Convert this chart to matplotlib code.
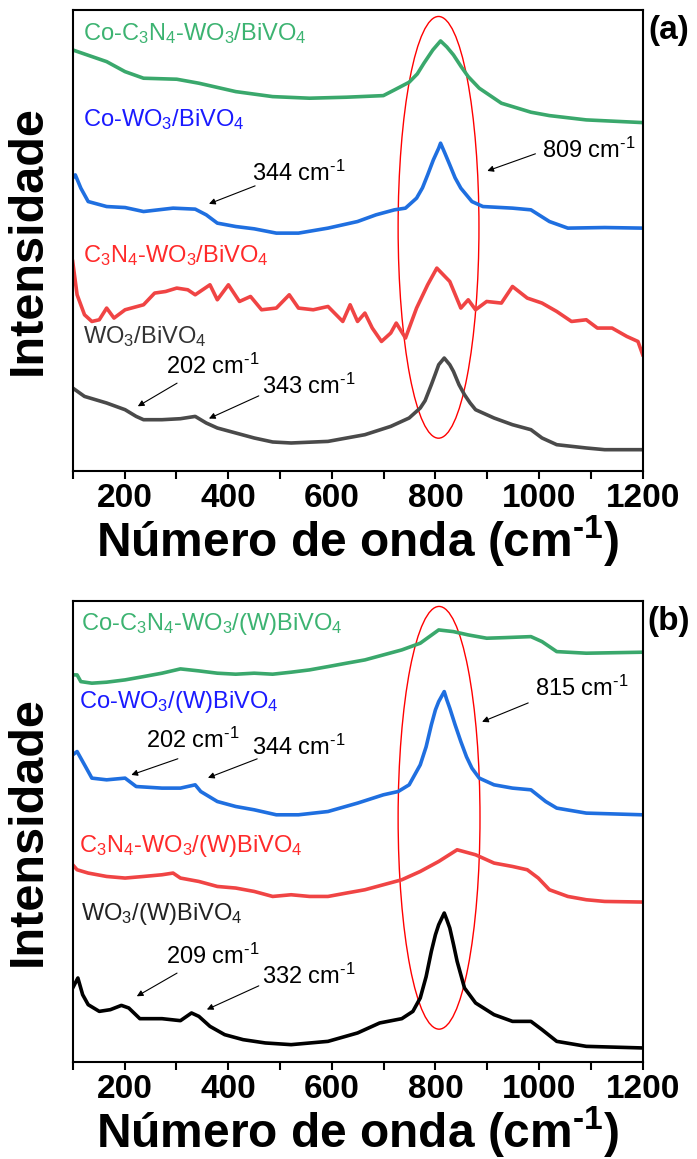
import matplotlib
matplotlib.use("Agg")
import matplotlib.pyplot as plt
from matplotlib.patches import Ellipse
from matplotlib.ticker import MultipleLocator

plt.rcParams["font.family"] = ["Liberation Sans", "DejaVu Sans"]
plt.rcParams["mathtext.fontset"] = "custom"
plt.rcParams["mathtext.rm"] = "Liberation Sans"
plt.rcParams["mathtext.bf"] = "Liberation Sans:bold"
plt.rcParams["mathtext.default"] = "regular"

HIFEN = "\u2010"  # hífen verdadeiro no expoente (o mathtext troca "-" pelo sinal de menos)

# ---- painel (a) ----
a_verde_x = [100, 165.5, 201, 236.7, 300.8, 343.5, 414.7, 485.9, 557.1, 628.3, 699.5, 720.9, 749.3,
             765, 777.8, 795, 809.9, 822, 834.8, 850, 863.3, 884.6, 927.3, 984.3, 1020, 1091, 1200]
a_verde_y = [421, 409.3, 399.3, 392.7, 391.7, 387.7, 379.3, 374.3, 372.7, 373.7, 375.3, 381, 388.7,
             397, 407.7, 421, 430, 424, 416, 404, 394.3, 382.7, 367.7, 358.7, 355.3, 351, 348.3]

a_azul_x = [100, 105, 115.7, 129.9, 165.5, 201.1, 236.7, 293.7, 336.4, 357.7, 379.1, 414.7, 450.3, 493,
            535.7, 592.7, 649.7, 685.3, 720.9, 742.2, 763.6, 775, 785, 796, 806.3, 809.9, 818, 827.7,
            838, 849, 870.4, 891.7, 948.7, 984.3, 1020, 1055.5, 1126.7, 1200]
a_azul_y = [292.7, 296, 282.7, 269.3, 264.3, 263.3, 259.3, 262.7, 261.7, 256, 247.7, 244.3, 242, 237.7,
            237.7, 242.7, 249.3, 256, 261, 262.7, 272.7, 283, 296, 311, 322.7, 327.7, 318, 306,
            293, 282.7, 269.3, 264.3, 262.7, 261, 249.3, 242.7, 243.3, 242.7]

a_verm_x = [100, 108.5, 122.8, 137, 151.3, 165.5, 179.7, 201.1, 236.7, 258.1, 279.4, 300.8, 322.1, 336.4,
            364.9, 379.1, 400.5, 421.8, 443.2, 464.5, 493, 517.9, 535.7, 564.2, 592.7, 621.2, 635.4,
            649.7, 663.9, 678.1, 695.9, 713.7, 724.4, 742.2, 763.6, 785, 802.7, 827.7, 849, 863.3,
            877.5, 898.9, 927.3, 948.7, 977.2, 1005.7, 1034.1, 1062.6, 1091.1, 1112.5, 1140.9,
            1169.4, 1190.8, 1200]
a_verm_y = [209.3, 176, 156, 149.3, 151, 162.7, 152.7, 161, 166, 177.7, 179.3, 182.7, 181, 176,
            186, 171, 186, 169.3, 174.3, 161, 162.7, 176, 162.7, 161, 164.3, 149.3, 166,
            149.3, 157.7, 142.7, 129.3, 137.7, 147.7, 132.7, 162.7, 186, 202.7, 189.3, 162.7, 171,
            161, 169.3, 167.7, 184.3, 172.7, 167.7, 159.3, 149.3, 151, 142.7, 142.7,
            134.3, 129.3, 116]

a_cinza_x = [100, 122.8, 165.5, 201.1, 222.5, 236.7, 272.3, 307.9, 336.4, 357.7, 379.1, 414.7, 450.3,
             485.9, 521.5, 592.7, 663.9, 713.7, 749.3, 770.7, 780, 792.1, 800, 806.3, 817, 827.7,
             834.8, 845.5, 856.1, 867, 877.5, 913.1, 948.7, 984.3, 1005.7, 1034.1, 1091.1, 1126.7, 1200]
a_cinza_y = [82.7, 74.3, 67.7, 61, 54.3, 51, 51, 52, 54.3, 47.7, 42.7, 37.7, 32.7,
             28.7, 27.7, 29.3, 36, 44.3, 52.7, 62.7, 70, 86, 97, 106, 112.7, 106,
             99.3, 86, 76, 67.7, 61, 52.7, 46, 41, 32.7, 26, 22.7, 21, 21]

# ---- painel (b) ----
b_verde_x = [100, 108.5, 115.7, 137, 165.5, 201.1, 236.7, 272.3, 307.9, 343.5, 379.1, 414.7, 450.3,
             485.9, 521.5, 557.1, 592.7, 628.3, 663.9, 699.5, 735.1, 770.7, 806.3, 834.8, 863.3,
             898.9, 934.5, 984.3, 1005.7, 1034.1, 1091.1, 1200]
b_verde_y = [387, 387, 380.3, 378.7, 379.7, 382, 385.3, 388.7, 393, 391, 388.7, 387.7, 388.7,
             387.7, 389.7, 392, 395.3, 398.7, 402, 407, 412, 418.7, 432, 430.3, 427,
             423.7, 424.3, 425.3, 420.3, 410.3, 408.7, 409.7]

b_azul_x = [100, 108.5, 122.8, 137, 165.5, 201.1, 222.5, 272.3, 307.9, 336.4, 347.1, 379.1, 414.7,
            450.3, 493, 535.7, 592.7, 649.7, 699.5, 728, 749.3, 770.7, 782, 792.1, 800, 806.3, 817,
            822, 827.7, 838, 849, 860, 870.4, 884.6, 913.1, 948.7, 984.3, 1012.8, 1034.1, 1091.1, 1200]
b_azul_y = [307, 310.3, 297, 283.7, 282, 283.7, 275.3, 273.7, 273.7, 277, 270.3, 260.3, 255.3,
            252, 247, 247, 250.3, 258.7, 267, 270.3, 277, 297, 315, 337, 352, 360.3, 370.3,
            362, 353.7, 337, 320.3, 305, 293.7, 283.7, 277, 273.7, 272, 260.3, 253.7, 248.7, 247]

b_verm_x = [100, 108.5, 129.9, 165.5, 201.1, 236.7, 272.3, 293.7, 307.9, 343.5, 379.1, 414.7, 450.3,
            485.9, 521.5, 557.1, 592.7, 628.3, 663.9, 699.5, 735.1, 770.7, 806.3, 841.9, 877.5,
            913.1, 948.7, 977.2, 998.5, 1020, 1055.5, 1091.1, 1126.7, 1200]
b_verm_y = [197, 192, 188.7, 185.3, 183.7, 185.3, 187, 188.7, 183.7, 180.3, 175.3, 173.7, 170.3,
            165.3, 167, 165.3, 165.3, 168.7, 172, 177, 182, 190.3, 200.3, 212, 207,
            198.7, 195.3, 192, 183.7, 172, 165.3, 162, 160.3, 159.7]

b_preto_x = [100, 110, 119.2, 129.9, 151.3, 172.6, 194, 208.2, 229.6, 272.3, 307.9, 329.3, 343.5,
             364.9, 393.3, 428.9, 471.7, 521.5, 592.7, 649.7, 692.4, 735.1, 756.5, 770.7, 782, 792.1,
             800, 806.3, 817, 822, 827.7, 835, 841.9, 856.1, 877.5, 913.1, 948.7, 984.3, 1005.7,
             1034.1, 1091.1, 1200]
b_preto_y = [73.7, 83.7, 67, 57, 50.3, 52, 56.3, 53.7, 43, 43, 41, 48.7, 45.3,
             35.3, 27, 22, 18.7, 17, 20.3, 28.7, 38.7, 43, 50.3, 63.7, 85, 110.3,
             127, 137, 148.7, 142, 133.7, 117, 100.3, 73.7, 58.7, 47, 40.3, 40.3, 32,
             20.3, 15.3, 13.7]

cor_verde, cor_azul, cor_verm = "#3aa86c", "#1f6fe0", "#f04444"

a_series = [(a_verde_x, a_verde_y, cor_verde), (a_azul_x, a_azul_y, cor_azul),
            (a_verm_x, a_verm_y, cor_verm), (a_cinza_x, a_cinza_y, "#4a4a4a")]
b_series = [(b_verde_x, b_verde_y, cor_verde), (b_azul_x, b_azul_y, cor_azul),
            (b_verm_x, b_verm_y, cor_verm), (b_preto_x, b_preto_y, "#000000")]

a_rotulos = [(r"Co-C$_3$N$_4$-WO$_3$/BiVO$_4$", 119, 431, "#3cb371"),
             (r"Co-WO$_3$/BiVO$_4$", 119, 345, "#1a1aff"),
             (r"C$_3$N$_4$-WO$_3$/BiVO$_4$", 119, 209, "#ff2a2a"),
             (r"WO$_3$/BiVO$_4$", 119, 128, "#333333")]
b_rotulos = [(r"Co-C$_3$N$_4$-WO$_3$/(W)BiVO$_4$", 116, 432, "#3cb371"),
             (r"Co-WO$_3$/(W)BiVO$_4$", 112, 354, "#1a1aff"),
             (r"C$_3$N$_4$-WO$_3$/(W)BiVO$_4$", 112, 210, "#ff2a2a"),
             (r"WO$_3$/(W)BiVO$_4$", 116, 142, "#222222")]

# (texto, x do texto, y do texto, cauda da seta, ponta da seta)
a_picos = [("344", 537, 298, (457, 286), (358, 266)),
           ("809", 1096, 321, (998, 318), (895, 299)),
           ("202", 370, 104, (306, 89), (221, 63)),
           ("343", 555, 84, (464, 76), (358, 51))]
b_picos = [("815", 1082, 374, (984, 360), (885, 339)),
           ("202", 331, 322, (308, 304), (208, 286)),
           ("344", 537, 315, (461, 304), (356, 283)),
           ("209", 370, 105, (306, 90), (219, 64)),
           ("332", 555, 85, (464, 77), (354, 51))]


def painel(ax, series, rotulos, picos, letra, elipse):
    for x, y, cor in series:
        ax.plot(x, y, color=cor, lw=2.6, solid_joinstyle="round")
    for txt, x, y, cor in rotulos:
        ax.text(x, y, txt, color=cor, fontsize=17, va="baseline")
    for num, tx, ty, cauda, ponta in picos:
        ax.text(tx, ty, num + " cm$^{" + HIFEN + "1}$", fontsize=17, ha="center", va="center")
        ax.annotate("", xy=ponta, xytext=cauda,
                    arrowprops=dict(arrowstyle="-|>", lw=0.8, color="k", mutation_scale=9))
    ax.add_patch(Ellipse(elipse[:2], elipse[2], elipse[3], fill=False, ec="red", lw=1))
    ax.text(1.045, 0.955, letra, transform=ax.transAxes, fontsize=24, fontweight="bold",
            ha="center", va="center")
    ax.set_xlim(100, 1200); ax.set_ylim(0, 461)
    ax.set_yticks([])
    ax.xaxis.set_major_locator(MultipleLocator(200))
    ax.xaxis.set_minor_locator(MultipleLocator(100))
    ax.tick_params(axis="x", which="major", direction="out", length=6, width=1.5, labelsize=24, pad=3)
    ax.tick_params(axis="x", which="minor", direction="out", length=6, width=1.5)
    for lbl in ax.get_xticklabels():
        lbl.set_fontweight("bold")
    for s in ax.spines.values():
        s.set_linewidth(1.5)
    ax.set_xlabel("Número de onda (cm$^{\\mathbf{" + HIFEN + "1}}$)", fontsize=34.5,
                  fontweight="bold", labelpad=0)
    ax.set_ylabel("Intensidade", fontsize=35, fontweight="bold", labelpad=16)


fig = plt.figure(figsize=(6.97, 11.59), dpi=100)
ax1 = fig.add_axes([0.1043, 0.5939, 0.8178, 0.3975])
ax2 = fig.add_axes([0.1043, 0.0840, 0.8178, 0.3975])
painel(ax1, a_series, a_rotulos, a_picos, "(a)", (806, 243.5, 156, 422))
painel(ax2, b_series, b_rotulos, b_picos, "(b)", (807, 244, 158, 423))
fig.savefig("out.png", dpi=100)
